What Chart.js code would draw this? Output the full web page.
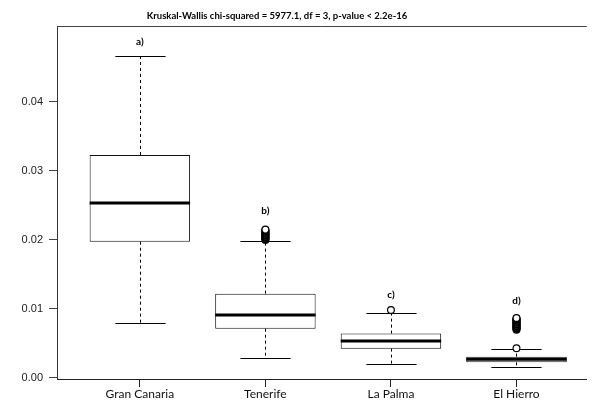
<!DOCTYPE html>
<html>
<head>
<meta charset="utf-8">
<script src="https://cdn.jsdelivr.net/npm/chart.js@4"></script>
<style>
  html, body { margin: 0; padding: 0; background: #fff; }
  #wrap { width: 592px; height: 405px; }
</style>
</head>
<body>
<div id="wrap"><canvas id="boxes"></canvas></div>
<script>
// --- datos por isla ---
const islas = ['Gran Canaria', 'Tenerife', 'La Palma', 'El Hierro'];
const bigoteInf = [0.0079, 0.0029, 0.0020, 0.00164];
const q1 = [0.01975, 0.00714, 0.00425, 0.00227];
const mediana = [0.02536, 0.00913, 0.00536, 0.00271];
const q3 = [0.03232, 0.01222, 0.00643, 0.00309];
const bigoteSup = [0.04671, 0.01986, 0.00947, 0.0042];
const outTenerife = [0.0200, 0.0201, 0.0202, 0.0203, 0.0204, 0.0205, 0.0206, 0.0207, 0.0208, 0.0209, 0.0210, 0.0211, 0.0212, 0.0213, 0.0214, 0.0215];
const outLaPalma = [0.00986];
const outElHierro = [0.0043, 0.0070, 0.0071, 0.0072, 0.0073, 0.0074, 0.0075, 0.0076, 0.0077, 0.0078, 0.0079, 0.0080, 0.0081, 0.0082, 0.0083, 0.0084, 0.0085, 0.0086, 0.0087];
const letras = ['a)', 'b)', 'c)', 'd)'];
const letraY = [0.0487, 0.0243, 0.0121, 0.0112];
const yTicks = [0, 0.01, 0.02, 0.03, 0.04];
const titulo = 'Kruskal-Wallis chi-squared = 5977.1, df = 3, p-value < 2.2e-16';

const outliers = [
  ...outTenerife.map(v => ({ x: 2, y: v })),
  ...outLaPalma.map(v => ({ x: 3, y: v })),
  ...outElHierro.map(v => ({ x: 4, y: v }))
];

// bigotes, topes, medianas, letras y título
const boxplotExtras = {
  id: 'boxplotExtras',
  beforeDatasetsDraw(chart) {
    const { ctx, scales: { x, y } } = chart;
    const cap = (x.getPixelForValue(1.2) - x.getPixelForValue(0.8)) / 2;
    ctx.save();
    ctx.strokeStyle = '#000';
    ctx.lineWidth = 1;
    islas.forEach((_, i) => {
      const px = Math.round(x.getPixelForValue(i + 1)) + 0.5;
      ctx.setLineDash([3, 3]);
      ctx.beginPath();
      ctx.moveTo(px, y.getPixelForValue(q3[i]));
      ctx.lineTo(px, y.getPixelForValue(bigoteSup[i]));
      ctx.moveTo(px, y.getPixelForValue(q1[i]));
      ctx.lineTo(px, y.getPixelForValue(bigoteInf[i]));
      ctx.stroke();
      ctx.setLineDash([]);
      ctx.beginPath();
      [bigoteSup[i], bigoteInf[i]].forEach(v => {
        const py = Math.round(y.getPixelForValue(v)) + 0.5;
        ctx.moveTo(px - cap, py);
        ctx.lineTo(px + cap, py);
      });
      ctx.stroke();
    });
    ctx.restore();
  },
  afterDatasetsDraw(chart) {
    const { ctx, chartArea, scales: { x, y } } = chart;
    const half = (x.getPixelForValue(1.4) - x.getPixelForValue(0.6)) / 2;
    ctx.save();
    ctx.strokeStyle = '#000';
    ctx.lineWidth = 3;
    islas.forEach((_, i) => {
      const px = x.getPixelForValue(i + 1);
      const py = y.getPixelForValue(mediana[i]);
      ctx.beginPath();
      ctx.moveTo(px - half, py);
      ctx.lineTo(px + half, py);
      ctx.stroke();
    });
    // borde superior del marco
    ctx.lineWidth = 1;
    ctx.strokeStyle = '#444';
    ctx.beginPath();
    ctx.moveTo(chartArea.left, chartArea.top + 0.5);
    ctx.lineTo(chartArea.right, chartArea.top + 0.5);
    ctx.stroke();

    ctx.fillStyle = '#000';
    ctx.textAlign = 'center';
    ctx.textBaseline = 'middle';
    ctx.font = 'bold 10px Lato';
    letras.forEach((t, i) => {
      ctx.fillText(t, x.getPixelForValue(i + 1), y.getPixelForValue(letraY[i]));
    });
    ctx.font = 'bold 9.5px Lato';
    ctx.fillText(titulo, 277, 16);
    ctx.restore();
  }
};

new Chart(document.getElementById('boxes'), {
  type: 'bar',
  data: {
    datasets: [
      {
        type: 'bar',
        data: islas.map((_, i) => ({ x: i + 1, y: [q1[i], q3[i]] })),
        backgroundColor: '#fff',
        borderColor: '#111',
        borderWidth: 1,
        borderSkipped: false,
        categoryPercentage: 1,
        barPercentage: 0.8
      },
      {
        type: 'scatter',
        data: outliers,
        pointRadius: 3.4,
        pointBorderWidth: 1.2,
        pointBorderColor: '#000',
        pointBackgroundColor: '#fff'
      }
    ]
  },
  options: {
    responsive: true,
    maintainAspectRatio: false,
    animation: false,
    layout: { padding: { top: 26, left: 0, right: 0, bottom: 0 } },
    plugins: { legend: { display: false }, tooltip: { enabled: false } },
    scales: {
      x: {
        type: 'linear',
        min: 0.34,
        max: 4.56,
        offset: false,
        afterBuildTicks: s => { s.ticks = islas.map((_, i) => ({ value: i + 1 })); },
        afterFit: s => { s.height = 26; },
        grid: { offset: false, drawOnChartArea: false, drawTicks: true, tickLength: 8, color: '#222' },
        border: { display: true, color: '#222' },
        ticks: {
          autoSkip: false,
          maxRotation: 0,
          padding: 0,
          color: '#111',
          font: { family: 'Lato', size: 12 },
          callback: v => islas[v - 1]
        }
      },
      y: {
        type: 'linear',
        min: -0.00015,
        max: 0.05101,
        afterBuildTicks: s => { s.ticks = yTicks.map(v => ({ value: v })); },
        afterFit: s => { s.width = 57; },
        grid: { drawOnChartArea: false, drawTicks: true, tickLength: 8, color: '#444' },
        border: { display: true, color: '#333' },
        ticks: {
          padding: 6,
          color: '#222',
          font: { family: 'Liberation Sans', size: 11 },
          callback: v => v.toFixed(2)
        }
      }
    }
  },
  plugins: [boxplotExtras]
});
</script>
</body>
</html>
